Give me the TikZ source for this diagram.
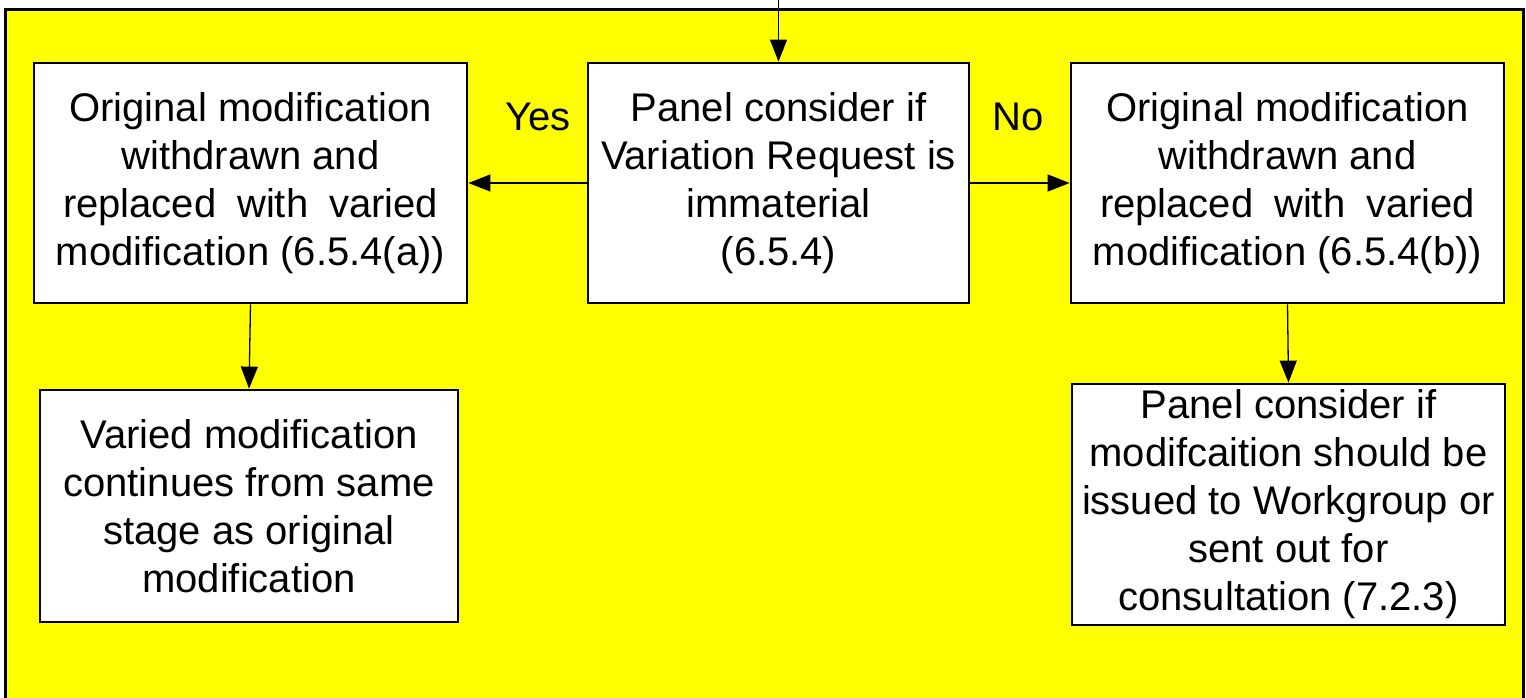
\documentclass[tikz,border=0pt]{standalone}
\usepackage{fontspec}
\setmainfont{Liberation Sans}
\usetikzlibrary{arrows.meta}
\definecolor{ylw}{RGB}{255,255,0}
\begin{document}
\begin{tikzpicture}[x=1pt,y=-1pt,
  box/.style={draw=black, line width=2.8pt, fill=white, inner sep=0pt, align=center, font=\fontsize{40}{48}\selectfont},
  conn/.style={line width=1.3pt, -{Triangle[length=22pt,width=17pt]}},
  lbl/.style={font=\fontsize{40}{48}\selectfont, inner sep=0pt}]
\useasboundingbox (0,0) rectangle (1526,698);
\begin{scope}
\clip (0,0) rectangle (1526,698);
\draw[fill=ylw, line width=3pt] (5,10) rectangle (1523,720);
\end{scope}
\node[box, minimum width=433pt, minimum height=240pt] (lt) at (250.5,183) {Original modification\\withdrawn and\\\makebox[375pt][s]{replaced with varied}\\modification (6.5.4(a))};
\node[box, minimum width=381pt, minimum height=240pt] (ct) at (778.5,183) {Panel consider if\\Variation Request is\\immaterial\\(6.5.4)};
\node[box, minimum width=433pt, minimum height=240pt] (rt) at (1287.5,183) {Original modification\\withdrawn and\\\makebox[375pt][s]{replaced with varied}\\modification (6.5.4(b))};
\node[box, minimum width=418pt, minimum height=232pt] (lb) at (249,506) {Varied modification\\continues from same\\stage as original\\modification};
\node[box, minimum width=433pt, minimum height=241pt] (rb) at (1288.5,504.5) {Panel consider if\\modifcaition should be\\issued to Workgroup or\\sent out for\\consultation (7.2.3)};
\coordinate (top) at (778.5,0);
\draw[conn] (top) -- (ct.north);
\draw[conn] (ct.west) -- (lt.east);
\draw[conn] (ct.east) -- (rt.west);
\draw[conn] (lt.south) -- (lb.north);
\draw[conn] (rt.south) -- (rb.north);
\node[lbl] (yes) at (538,117) {Yes};
\node[lbl] (no) at (1018,117) {No};
\end{tikzpicture}
\end{document}
